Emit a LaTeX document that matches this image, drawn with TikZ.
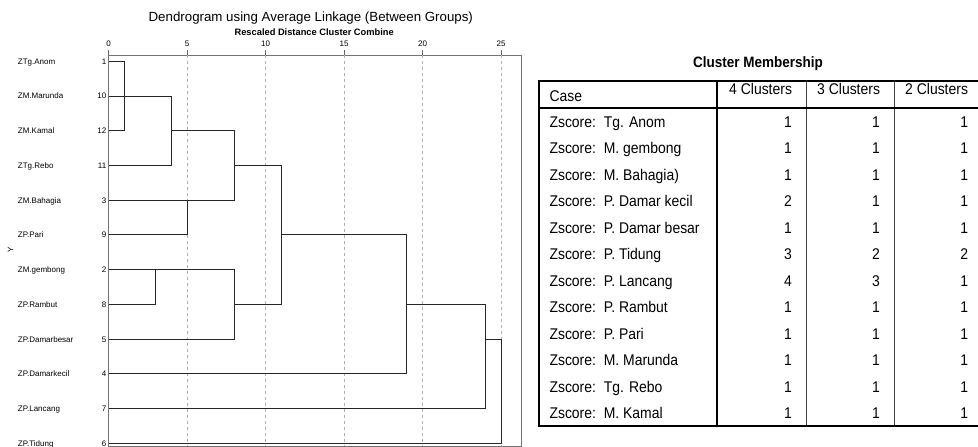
\documentclass[tikz,border=0pt]{standalone}
\usepackage{fontspec}
\setmainfont{Liberation Sans}
\newfontfamily\narrowfont[FakeStretch=0.9]{Liberation Sans}
\begin{document}
\begin{tikzpicture}[x=1pt,y=-1pt,
  txt/.style={inner sep=0pt,outer sep=0pt,text=black},
  lbl/.style={txt,font=\fontsize{8}{9}\selectfont},
  tree/.style={draw=black!85,line width=0.9pt},
  frame/.style={draw=black!55,line width=0.8pt},
  grid/.style={draw=black!30,line width=0.7pt,dash pattern=on 3pt off 3pt},
  tick/.style={draw=black!60,line width=0.7pt},
  tab/.style={txt,font=\narrowfont\fontsize{15.5}{18}\selectfont},
  thickrule/.style={draw=black,line width=1.7pt},
  thinrule/.style={draw=black!75,line width=0.8pt}]
\useasboundingbox (0,0) rectangle (978,447);

% ---------------- dendrogram ----------------
\node[txt,font=\fontsize{13.3}{15}\selectfont,anchor=base] (title) at (310.8,21) {Dendrogram using Average Linkage (Between Groups)};
\node[txt,font=\bfseries\fontsize{9.3}{11}\selectfont,anchor=base] (subtitle) at (314.2,35) {Rescaled Distance Cluster Combine};

% frame, grid and axis ticks
\draw[frame] (108.5,55) rectangle (521.7,446);
\foreach \u in {5,10,...,25}
  \draw[grid] (108.5+15.7*\u,55) -- (108.5+15.7*\u,446);
\foreach \u in {0,5,...,25}{
  \draw[tick] (108.5+15.7*\u,50) -- (108.5+15.7*\u,55);
  \node[lbl,anchor=base] (t\u) at (108.5+15.7*\u,46.9) {\u};
}

% vertical axis label
\node[lbl,rotate=90] (ylab) at (10.5,250) {Y};

% leaves: name, case number, row position
\foreach \nm/\k/\y in {ZTg.Anom/1/61.3, ZM.Marunda/10/96.0, ZM.Kamal/12/130.7,
    ZTg.Rebo/11/165.5, ZM.Bahagia/3/200.2, ZP.Pari/9/234.9, ZM.gembong/2/269.6,
    ZP.Rambut/8/304.3, ZP.Damarbesar/5/339.1, ZP.Damarkecil/4/373.8,
    ZP.Lancang/7/408.5, ZP.Tidung/6/443.2}{
  \node[lbl,anchor=base west] (n\k) at (17.9,\y+2.9) {\nm};
  \node[lbl,anchor=base east] (c\k) at (106.3,\y+2.9) {\k};
  \coordinate (L\k) at (108.5,\y);
}

% merge points (x = 108.5 + 15.7 * distance)
\coordinate (a1) at (124.2,130.7);
\coordinate (a2) at (171.3,165.5);
\coordinate (b1) at (171.3,130.7);
\coordinate (a3) at (234.1,200.2);
\coordinate (a4) at (187.0,200.2);
\coordinate (b2) at (234.1,165.5);
\coordinate (a5) at (281.2,304.3);
\coordinate (b3) at (234.1,304.3);
\coordinate (a6) at (234.1,339.1);
\coordinate (a7) at (155.6,269.6);
\coordinate (b4) at (281.2,234.9);
\coordinate (a8) at (406.8,373.8);
\coordinate (b5) at (406.8,304.3);
\coordinate (a9) at (485.3,408.5);
\coordinate (b6) at (485.3,339.1);
\coordinate (a10) at (501.0,443.2);

\draw[tree] (L1) -| (a1) -- (L12);
\draw[tree] (L10) -| (a2) -- (L11);
\draw[tree] (b1) -| (a3) -- (L3);
\draw[tree] (L9) -| (a4);
\draw[tree] (b2) -| (a5) -- (b3);
\draw[tree] (L2) -| (a6) -- (L5);
\draw[tree] (L8) -| (a7);
\draw[tree] (b4) -| (a8) -- (L4);
\draw[tree] (b5) -| (a9) -- (L7);
\draw[tree] (b6) -| (a10) -- (L6);

% ---------------- cluster membership table ----------------
\node[txt,font=\narrowfont\bfseries\fontsize{15}{18}\selectfont,anchor=base] (ttitle) at (758,67.1) {Cluster Membership};

\draw[thinrule] (806,81) -- (806,426);
\draw[thinrule] (894.5,81) -- (894.5,426);
\draw[thickrule] (978,81) -- (539,81) -- (539,426) -- (978,426);
\draw[thickrule] (539,108.3) -- (978,108.3);
\draw[thickrule] (717.3,81) -- (717.3,426);

\node[tab,anchor=base west] (hcase) at (549.5,101.2) {Case};
\node[tab,anchor=base east] (h4) at (792,94.5) {4 Clusters};
\node[tab,anchor=base east] (h3) at (880,94.5) {3 Clusters};
\node[tab,anchor=base east] (h2) at (968,94.5) {2 Clusters};

\foreach \nm/\p/\q/\r [count=\i from 0] in {Tg. Anom/1/1/1, M. gembong/1/1/1,
    M. Bahagia)/1/1/1, P. Damar kecil/2/1/1, P. Damar besar/1/1/1,
    P. Tidung/3/2/2, P. Lancang/4/3/1, P. Rambut/1/1/1, P. Pari/1/1/1,
    M. Marunda/1/1/1, Tg. Rebo/1/1/1, M. Kamal/1/1/1}{
  \node[tab,anchor=base west] (r\i) at (549.5,127+26.5*\i) {Zscore:\ \ \nm};
  \node[tab,anchor=base east] (p\i) at (792,127+26.5*\i) {\p};
  \node[tab,anchor=base east] (q\i) at (880,127+26.5*\i) {\q};
  \node[tab,anchor=base east] (s\i) at (968,127+26.5*\i) {\r};
}
\end{tikzpicture}
\end{document}
